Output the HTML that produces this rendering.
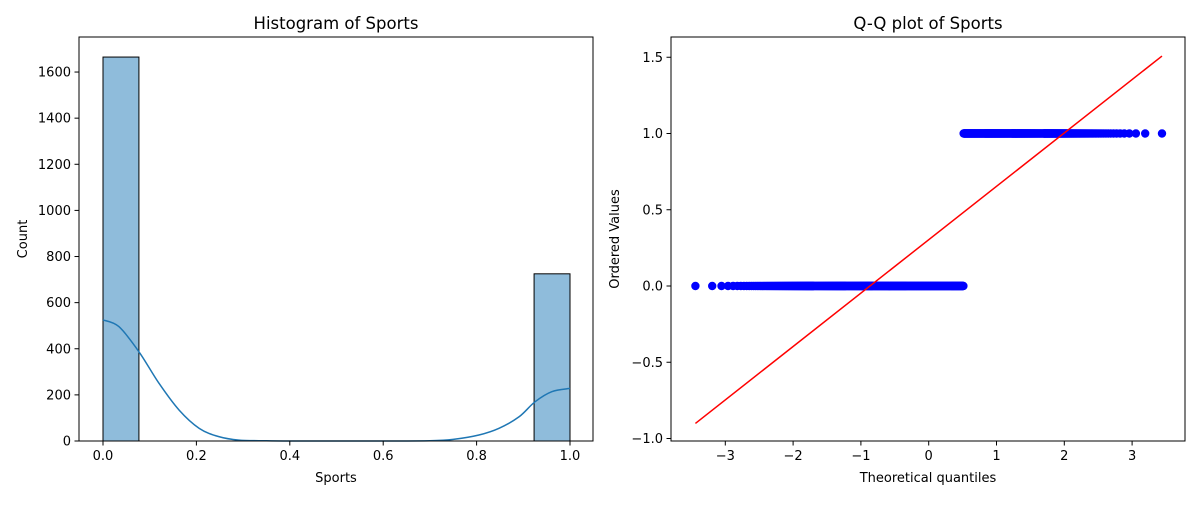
<!DOCTYPE html>
<html><head><meta charset="utf-8"><style>
body{margin:0;background:#fff;font-family:"Liberation Sans","DejaVu Sans",sans-serif;}
svg text{font-family:"DejaVu Sans","Liberation Sans",sans-serif;fill:#000;}
</style></head><body>
<svg id="c" width="1200" height="500" xmlns="http://www.w3.org/2000/svg"></svg>
<script>
const histCounts=[1665,725];
const histBinStarts=[0,12/13];
const kdeX=[0,0.034,0.077,0.12,0.163,0.206,0.248,0.291,0.35,0.4,0.5,0.6,0.7,0.75,0.805,0.848,0.891,0.925,0.961,1.0];
const kdeY=[525,496,387,250,134,55,19,4,1,0,0,0,1,7,26,55,105,170,214,228];
const histXTicks=[0,0.2,0.4,0.6,0.8,1.0];
const histXLabels=["0.0","0.2","0.4","0.6","0.8","1.0"];
const histYTicks=[0,200,400,600,800,1000,1200,1400,1600];
const qqValues=[0,1];
const qqCounts=[1665,725];
const qqXTicks=[-3,-2,-1,0,1,2,3];
const qqYTicks=[-1.0,-0.5,0,0.5,1.0,1.5];
const qqYLabels=["\u22121.0","\u22120.5","0.0","0.5","1.0","1.5"];

const svg=document.getElementById('c');
const NS='http://www.w3.org/2000/svg';
function mk(tag,attrs,parent){const e=document.createElementNS(NS,tag);for(const k in attrs)e.setAttribute(k,attrs[k]);(parent||svg).appendChild(e);return e;}
function txt(s,x,y,anchor,size,parent,rot){const t=mk('text',{x:x,y:y,'text-anchor':anchor,'font-size':size},parent);if(rot)t.setAttribute('transform',`rotate(-90 ${x} ${y})`);t.textContent=s;return t;}
function smooth(P){let d='M'+P[0][0]+','+P[0][1];for(let i=0;i<P.length-1;i++){const p0=P[Math.max(0,i-1)],p1=P[i],p2=P[i+1],p3=P[Math.min(P.length-1,i+2)];const c1=[p1[0]+(p2[0]-p0[0])/6,p1[1]+(p2[1]-p0[1])/6],c2=[p2[0]-(p3[0]-p1[0])/6,p2[1]-(p3[1]-p1[1])/6];d+=`C${c1[0]},${c1[1]} ${c2[0]},${c2[1]} ${p2[0]},${p2[1]}`;}return d;}

// ---------- Histogram ----------
const L={x0:79,x1:593,y0:37,y1:441};
const hx=v=>103+v*467;
const hy=v=>441-v*0.2306;
const g1=mk('g',{});


for(let i=0;i<histCounts.length;i++){
 const x=hx(histBinStarts[i]),w=hx(histBinStarts[i]+1/13)-x;
 const r=mk('rect',{x:x,y:hy(histCounts[i]),width:w,height:hy(0)-hy(histCounts[i]),fill:'#8fbcdb',stroke:'#000','stroke-width':1},g1);
 
 
}
const kp=mk('path',{d:smooth(kdeX.map((v,i)=>[hx(v),hy(kdeY[i])])),fill:'none',stroke:'#1f77b4','stroke-width':1.5},g1);


mk('rect',{x:L.x0,y:L.y0,width:L.x1-L.x0,height:L.y1-L.y0,fill:'none',stroke:'#000','stroke-width':1},g1);
histXTicks.forEach((v,i)=>{const x=hx(v);mk('line',{x1:x,x2:x,y1:441,y2:445.5,stroke:'#000'},g1);txt(histXLabels[i],x,460,'middle',13,g1);});
histYTicks.forEach(v=>{const y=hy(v);mk('line',{x1:79,x2:74.5,y1:y,y2:y,stroke:'#000'},g1);txt(String(v),71,y+4.5,'end',13,g1);});
const t1=txt('Histogram of Sports',336,29,'middle',16.5,g1);
const xl1=txt('Sports',336,482,'middle',13,g1);
const yl1=txt('Count',27,239,'middle',13,g1,true);

// ---------- QQ ----------
const R={x0:671,x1:1185,y0:37,y1:441};
const qx=v=>928.7+v*67.8;
const qy=v=>286-v*152.5;
function ppf(p){const a=[-39.6968302866538,220.946098424521,-275.928510446969,138.357751867269,-30.6647980661472,2.50662827745924],b=[-54.4760987982241,161.585836858041,-155.698979859887,66.8013118877197,-13.2806815528857],c=[-0.00778489400243029,-0.322396458041136,-2.40075827716184,-2.54973253934373,4.37466414146497,2.93816398269878],d=[0.00778469570904146,0.32246712907004,2.445134137143,3.75440866190742];const pl=0.02425;let q,r;
 if(p<pl){q=Math.sqrt(-2*Math.log(p));return(((((c[0]*q+c[1])*q+c[2])*q+c[3])*q+c[4])*q+c[5])/((((d[0]*q+d[1])*q+d[2])*q+d[3])*q+1);}
 if(p>1-pl){q=Math.sqrt(-2*Math.log(1-p));return-(((((c[0]*q+c[1])*q+c[2])*q+c[3])*q+c[4])*q+c[5])/((((d[0]*q+d[1])*q+d[2])*q+d[3])*q+1);}
 q=p-0.5;r=q*q;return(((((a[0]*r+a[1])*r+a[2])*r+a[3])*r+a[4])*r+a[5])*q/(((((b[0]*r+b[1])*r+b[2])*r+b[3])*r+b[4])*r+1);}
const data=[];qqValues.forEach((v,i)=>{for(let k=0;k<qqCounts[i];k++)data.push(v);});
const n=data.length;const mn=Math.pow(0.5,1/n);
const qs=data.map((_,i)=>{const p=i===0?1-mn:(i===n-1?mn:(i+1-0.3175)/(n+0.365));return ppf(p);});
const g2=mk('g',{});


const pts=mk('g',{fill:'#0000ff'},g2);


let lastX=-1e9,lastY=null;
for(let i=0;i<n;i++){const x=qx(qs[i]),y=qy(data[i]);if(y===lastY&&Math.abs(x-lastX)<0.3)continue;lastX=x;lastY=y;mk('circle',{cx:x,cy:y,r:4.2},pts);}
let mx=0,my=0;for(let i=0;i<n;i++){mx+=qs[i];my+=data[i];}mx/=n;my/=n;
let sxy=0,sxx=0;for(let i=0;i<n;i++){sxy+=(qs[i]-mx)*(data[i]-my);sxx+=(qs[i]-mx)**2;}
const slope=sxy/sxx,icpt=my-slope*mx;
const qmin=qs[0],qmax=qs[n-1];
const ln=mk('line',{x1:qx(qmin),y1:qy(icpt+slope*qmin),x2:qx(qmax),y2:qy(icpt+slope*qmax),stroke:'#ff0000','stroke-width':1.5},g2);


mk('rect',{x:R.x0,y:R.y0,width:R.x1-R.x0,height:R.y1-R.y0,fill:'none',stroke:'#000','stroke-width':1},g2);
qqXTicks.forEach(v=>{const x=qx(v);mk('line',{x1:x,x2:x,y1:441,y2:445.5,stroke:'#000'},g2);txt(v<0?'\u2212'+(-v):String(v),x,460,'middle',13,g2);});
qqYTicks.forEach((v,i)=>{const y=qy(v);mk('line',{x1:671,x2:666.5,y1:y,y2:y,stroke:'#000'},g2);txt(qqYLabels[i],663,y+4.5,'end',13,g2);});
const t2=txt('Q-Q plot of Sports',928,29,'middle',16.5,g2);
const xl2=txt('Theoretical quantiles',928,482,'middle',13,g2);
const yl2=txt('Ordered Values',619,239,'middle',13,g2,true);
</script>
</body></html>
